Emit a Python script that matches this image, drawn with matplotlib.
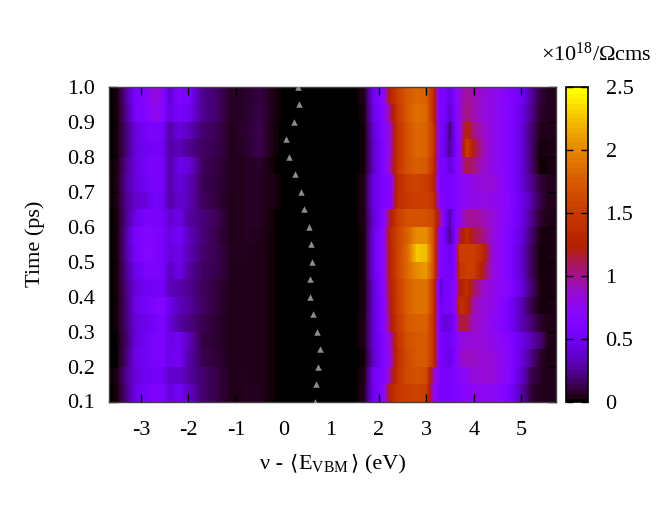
import numpy as np
import matplotlib
matplotlib.use("Agg")
import matplotlib.pyplot as plt
from matplotlib.colors import ListedColormap, Normalize
from matplotlib.cm import ScalarMappable

plt.rcParams['font.family'] = ['Liberation Serif', 'DejaVu Serif']
plt.rcParams['mathtext.fontset'] = 'custom'
plt.rcParams['mathtext.rm'] = 'Liberation Serif'
plt.rcParams['mathtext.it'] = 'Liberation Serif:italic'
plt.rcParams['mathtext.bf'] = 'Liberation Serif:bold'

time_edges = [1.0,0.95,0.9,0.85,0.8,0.75,0.7,0.65,0.6,0.55,0.5,0.45,0.4,0.35,0.3,0.25,0.2,0.15,0.1]
time_marks = [1.0,0.95,0.9,0.85,0.8,0.75,0.7,0.65,0.6,0.55,0.5,0.45,0.4,0.35,0.3,0.25,0.2,0.15,0.1]
vbm_marks = [.315,.33,.23,.05,.11,.24,.37,.44,.54,.58,.59,.56,.56,.61,.70,.76,.73,.69,.66]

energy_left = [-3.68,-3.5,-3.3,-3.1,-2.9,-2.7,-2.55,-2.4,-2.2,-2.0,-1.7,-1.4,-1.1,-0.8,-0.5,-0.2,0.0]
rows_left = [
 [0,.02,.28,.58,.66,.85,.72,.38,.62,.55,.24,.17,.06,.07,.11,.03,0],
 [0,.02,.25,.55,.62,.8,.68,.42,.56,.5,.24,.17,.06,.07,.12,.03,0],
 [0,.02,.2,.42,.54,.58,.54,.28,.42,.34,.18,.14,.05,.08,.13,.02,0],
 [0,.02,.2,.42,.5,.54,.5,.28,.33,.25,.16,.13,.05,.07,.13,.02,0],
 [0,.03,.25,.42,.54,.58,.54,.28,.46,.42,.15,.11,.05,.06,.07,.01,0],
 [0,.04,.28,.42,.5,.58,.54,.28,.42,.34,.14,.1,.05,.06,.06,.03,0],
 [0,.04,.25,.38,.42,.54,.5,.28,.38,.33,.15,.1,.04,.06,.06,.03,0],
 [0,.02,.25,.46,.58,.58,.54,.38,.46,.28,.2,.14,.04,.06,.06,.01,0],
 [0,.02,.28,.58,.66,.62,.58,.42,.54,.34,.2,.12,.04,.06,.05,.01,0],
 [0,.02,.28,.54,.68,.62,.58,.42,.46,.33,.18,.13,.05,.05,.04,.01,0],
 [0,.02,.25,.46,.58,.62,.58,.33,.46,.28,.16,.13,.05,.04,.04,.01,0],
 [0,.02,.22,.42,.5,.54,.52,.33,.3,.25,.15,.1,.04,.04,.04,.01,0],
 [0,.02,.2,.46,.54,.62,.66,.46,.33,.28,.16,.1,.04,.04,.04,.01,0],
 [0,.02,.2,.42,.46,.54,.6,.42,.28,.22,.13,.08,.04,.04,.04,.01,0],
 [0,.01,.18,.42,.5,.58,.6,.46,.5,.34,.11,.08,.04,.04,.04,.01,0],
 [0,.01,.2,.46,.5,.58,.6,.46,.52,.3,.13,.09,.04,.04,.04,.01,0],
 [0,.04,.25,.42,.5,.54,.5,.38,.38,.28,.18,.12,.04,.05,.04,.01,0],
 [0,.02,.22,.46,.54,.62,.6,.42,.52,.36,.18,.12,.04,.05,.05,.01,0],
]

energy_right = [1.5,1.7,1.9,2.1,2.25,2.4,2.6,2.8,3.0,3.15,3.3,3.4,3.5,3.6,3.7,3.85,4.0,4.2,4.4,4.7,5.0,5.2,5.4,5.55,5.72]
rows_right = [
 [0,.05,.5,.72,1.3,1.55,1.75,1.85,1.8,1.4,.58,.58,.45,.62,.85,1.0,.95,.85,.8,.68,.5,.28,.1,.05,.05],
 [0,.03,.45,.68,1.05,1.5,1.75,1.9,1.85,1.4,.58,.55,.38,.58,.85,1.05,.95,.85,.8,.68,.45,.25,.08,.05,.05],
 [0,.02,.4,.64,.9,1.45,1.7,1.85,1.8,1.5,.58,.5,.2,.5,.8,1.3,1.05,.9,.8,.68,.42,.2,.05,.04,.05],
 [0,.02,.36,.6,.9,1.45,1.7,1.85,1.8,1.5,.58,.45,.25,.5,.75,1.55,1.2,.95,.8,.68,.42,.2,.02,.03,.04],
 [0,.02,.36,.6,.95,1.45,1.7,1.8,1.75,1.45,.58,.55,.42,.55,.75,1.15,1.05,.9,.8,.68,.42,.2,.01,.02,.04],
 [0,.05,.45,.58,.7,1.35,1.55,1.6,1.55,1.35,.56,.58,.58,.62,.7,.75,.82,.85,.85,.68,.42,.25,.1,.05,.05],
 [0,.05,.45,.57,.7,1.4,1.5,1.55,1.55,1.45,.66,.58,.58,.62,.7,.75,.8,.82,.8,.7,.46,.3,.12,.05,.05],
 [0,.04,.4,.66,1.2,1.55,1.7,1.7,1.7,1.6,1.0,.56,.3,.58,.75,1.0,1.0,.95,.85,.68,.46,.25,.08,.04,.04],
 [0,.03,.45,.72,1.35,1.6,1.8,2.05,2.05,1.7,.66,.5,.25,.56,1.1,1.4,1.15,1.05,.85,.65,.42,.2,.03,.02,.04],
 [0,.03,.45,.72,1.3,1.6,1.85,2.3,2.25,1.7,.62,.58,.48,.62,1.55,1.55,1.55,1.35,.85,.65,.38,.16,.02,.02,.04],
 [0,.03,.45,.72,1.3,1.6,1.85,2.05,2.1,1.7,.62,.56,.54,.62,1.45,1.55,1.55,1.2,.85,.65,.38,.16,.02,.02,.04],
 [0,.03,.4,.7,1.25,1.55,1.8,1.9,1.9,1.5,.4,.55,.58,.68,1.2,1.4,1.1,.9,.8,.7,.42,.2,.03,.02,.04],
 [0,.03,.4,.68,1.2,1.55,1.8,1.9,1.9,1.5,.5,.56,.58,.68,1.4,1.35,.95,.85,.8,.6,.32,.13,.02,.02,.04],
 [0,.04,.4,.66,1.15,1.5,1.75,1.8,1.8,1.45,.5,.4,.45,.58,1.15,1.15,.9,.85,.75,.6,.32,.2,.08,.04,.04],
 [0,.04,.4,.62,.9,1.45,1.7,1.75,1.75,1.45,.56,.54,.5,.6,.8,.85,.85,.85,.8,.68,.46,.32,.2,.05,.04],
 [0,.02,.36,.6,.85,1.4,1.65,1.75,1.75,1.45,.58,.5,.45,.6,.85,.9,.9,.85,.85,.72,.42,.24,.08,.03,.04],
 [0,.04,.5,.62,1.0,1.45,1.65,1.7,1.65,1.0,.56,.56,.58,.62,.7,.75,.85,.85,.85,.72,.38,.14,.07,.04,.05],
 [0,.06,.5,.7,1.3,1.5,1.55,1.6,1.55,.85,.56,.58,.58,.62,.65,.7,.75,.75,.75,.62,.3,.1,.05,.04,.05],
]

xticks = [-3,-2,-1,0,1,2,3,4,5]
yticks = [0.1,0.2,0.3,0.4,0.5,0.6,0.7,0.8,0.9,1.0]
cticks = [0,0.5,1,1.5,2,2.5]
ctick_labels = ['0','0.5','1','1.5','2','2.5']

def palette(n):
    # gnuplot "traditional" pm3d palette (rgbformulae 7,5,15)
    f = np.linspace(0,1,n)
    return ListedColormap(np.c_[np.sqrt(f), f**3, np.clip(np.sin(2*np.pi*f),0,1)])

xs = np.array(energy_left + energy_right)
zs = np.hstack([np.array(rows_left), np.array(rows_right)])
fine = np.linspace(-3.68, 5.72, 600)
grid = np.array([np.interp(fine, xs, row) for row in zs])

W,H = 664,511
fig = plt.figure(figsize=(W/100,H/100),dpi=100)
L,R,T,B = 108.5,555.5,87,401.5
ax = fig.add_axes([L/W,1-B/H,(R-L)/W,(B-T)/H])
edges = np.r_[fine[0],(fine[1:]+fine[:-1])/2,fine[-1]]
ax.pcolormesh(edges,time_edges,grid,cmap=palette(256),vmin=0,vmax=2.5,shading='flat')
ax.scatter(vbm_marks,time_marks,marker='^',s=22,color='#8c8c8c',linewidths=0,zorder=3)
ax.set_xlim(-3.68,5.72); ax.set_ylim(0.1,1.0)
ax.set_xticks(xticks); ax.set_xticklabels([str(t) for t in xticks])
ax.set_yticks(yticks); ax.set_yticklabels([f'{t:.1f}' for t in yticks])
ax.tick_params(direction='in',top=True,right=True,length=6,width=1,labelsize=16,color='black')
ax.tick_params(axis='x',pad=14)
ax.tick_params(axis='y',pad=10)
for s in ax.spines.values():
    s.set_linewidth(1); s.set_color('#404040')

cax = fig.add_axes([565.5/W,1-B/H,22/W,(B-T)/H])
cb = fig.colorbar(ScalarMappable(Normalize(0,2.5),palette(64)),cax=cax)
cb.set_ticks(cticks); cb.set_ticklabels(ctick_labels)
cax.tick_params(direction='in',left=True,right=True,length=5,width=1,labelsize=16,pad=13)
cb.outline.set_linewidth(1.2)
cb.solids.set_edgecolor('face')

# x label built from pieces so the angle brackets keep their text size
base = 1-469/H
fig.text(260/W,base,'ν -',ha='left',va='baseline',fontsize=16)
fig.text(289/W,base,'⟨',ha='left',va='baseline',fontsize=15,family='DejaVu Sans')
fig.text(298/W,base,r'E$_{\mathrm{VBM}}$',ha='left',va='baseline',fontsize=16)
fig.text(350/W,base,'⟩',ha='left',va='baseline',fontsize=15,family='DejaVu Sans')
fig.text(365/W,base,'(eV)',ha='left',va='baseline',fontsize=16)
fig.text(35/W,1-244/H,'Time (ps)',rotation=90,ha='center',va='center',fontsize=16)
fig.text(596/W,1-54/H,r'×10$^{18}$/Ωcms',ha='center',va='center',fontsize=16)
fig.savefig('out.png',dpi=100)
